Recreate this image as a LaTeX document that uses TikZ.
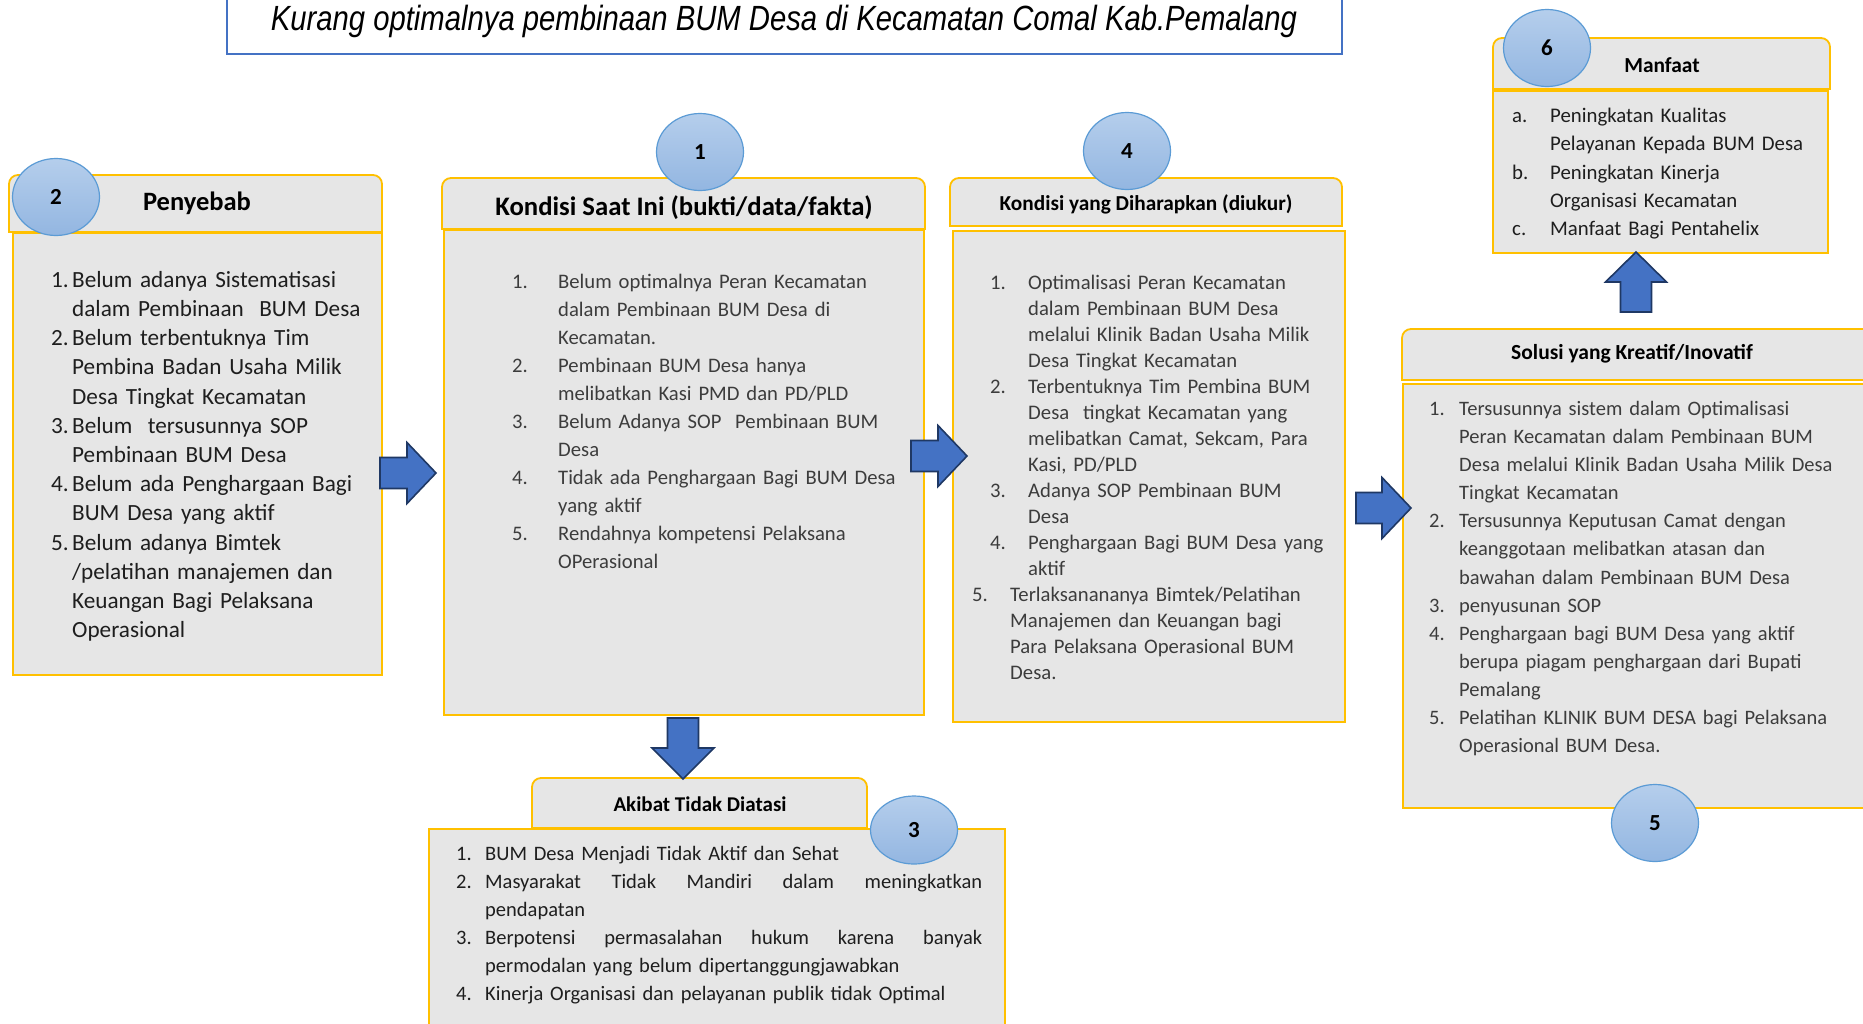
\documentclass[tikz,border=0pt]{standalone}
\usepackage{fontspec}
\setmainfont{Carlito}
\newfontfamily\headfont[FakeStretch=0.836]{Liberation Sans}
\usetikzlibrary{shapes.geometric,calc}

\definecolor{boxfill}{HTML}{E6E6E6}
\definecolor{gold}{HTML}{FFC000}
\definecolor{badgetop}{HTML}{B5CEEC}
\definecolor{badgebot}{HTML}{93B6E1}
\definecolor{badgeline}{HTML}{5B9BD5}
\definecolor{arrfill}{HTML}{4472C4}
\definecolor{arrline}{HTML}{1F3864}
\definecolor{titleline}{HTML}{4472C4}
\definecolor{ink}{HTML}{1E1E1E}
\definecolor{inkgray}{HTML}{3C3C3C}

% list helpers: numbered line and continuation line
\newlength\ind
\newcommand\li[2]{\makebox[\ind][l]{#1}#2}
\newcommand\lc[1]{\hspace*{\ind}#1}
% a fully justified line of the given width
\newcommand\jline[2]{\hbox to #1{#2}}

% header tab with rounded top corners
\newcommand\hdrtab[4]{%
  \filldraw[hdr] (#1,#4) -- (#1,#2+9) arc[start angle=180,end angle=270,radius=9]
    -- (#3-9,#2) arc[start angle=270,end angle=360,radius=9] -- (#3,#4) -- cycle;}

% block arrows between two named points
\newcommand\rarrow[2]{\draw[blockarr] let \p1=(#1), \p2=(#2) in
  (\x1,\y1+15.5pt) -- (\x2-29pt,\y1+15.5pt) -- (\x2-29pt,\y1+30.5pt) -- (\x2,\y2)
  -- (\x2-29pt,\y1-30.5pt) -- (\x2-29pt,\y1-15.5pt) -- (\x1,\y1-15.5pt) -- cycle;}
\newcommand\darrow[2]{\draw[blockarr] let \p1=(#1), \p2=(#2) in
  (\x1-15.5pt,\y1) -- (\x1-15.5pt,\y2+31pt) -- (\x1-31pt,\y2+31pt) -- (\x2,\y2)
  -- (\x1+31pt,\y2+31pt) -- (\x1+15.5pt,\y2+31pt) -- (\x1+15.5pt,\y1) -- cycle;}
\newcommand\uarrow[2]{\draw[blockarr] let \p1=(#1), \p2=(#2) in
  (\x1-15.5pt,\y1) -- (\x1-15.5pt,\y2-30pt) -- (\x1-30.5pt,\y2-30pt) -- (\x2,\y2)
  -- (\x1+30.5pt,\y2-30pt) -- (\x1+15.5pt,\y2-30pt) -- (\x1+15.5pt,\y1) -- cycle;}

\begin{document}
\begin{tikzpicture}[x=1pt,y=-1pt,
  hdr/.style={draw=gold,fill=boxfill,line width=1.8pt},
  bodybox/.style={draw=gold,fill=boxfill,line width=1.8pt,rectangle,inner sep=0pt,anchor=north west},
  badge/.style={ellipse,draw=badgeline,line width=1.2pt,top color=badgetop,bottom color=badgebot,
    minimum width=87pt,minimum height=77pt,inner sep=0pt,font=\bfseries\fontsize{23}{26}\selectfont},
  boxtitle/.style={inner sep=0pt,font=\bfseries\fontsize{#1}{#1}\selectfont},
  listtext/.style={inner sep=0pt,anchor=north west,text width=620pt,align=left},
  blockarr/.style={fill=arrfill,draw=arrline,line width=1.6pt,line join=miter}]

\useasboundingbox (0,0) rectangle (1863,1023);
\fill[white] (0,0) rectangle (1863,1023);

% ---------- heading ----------
\node[draw=titleline,line width=2.2pt,fill=white,minimum width=1115pt,minimum height=85pt,
  anchor=south west,inner sep=0pt] (titlebox) at (226,55) {};
\node[inner sep=0pt,anchor=base] (titletext) at (784,30)
  {\headfont\itshape\fontsize{35}{40}\selectfont Kurang optimalnya pembinaan BUM Desa di Kecamatan Comal Kab.Pemalang};

% ---------- 2: Penyebab ----------
\hdrtab{9}{175}{382}{232}
\node[bodybox,minimum width=369pt,minimum height=442pt] (penyebab) at (12,232) {};
\node[boxtitle=26.5] (t2) at (197,203) {Penyebab};
\node[listtext,text=ink,font=\fontsize{23.2}{29.2}\selectfont] (l2) at (51,271) {\setlength\ind{21pt}\noindent
\li{1.}{Belum adanya Sistematisasi}\\
\lc{dalam Pembinaan\ \ BUM Desa}\\
\li{2.}{Belum terbentuknya Tim}\\
\lc{Pembina Badan Usaha Milik}\\
\lc{Desa Tingkat Kecamatan}\\
\li{3.}{Belum\ \ tersusunnya SOP}\\
\lc{Pembinaan BUM Desa}\\
\li{4.}{Belum ada Penghargaan Bagi}\\
\lc{BUM Desa yang aktif}\\
\li{5.}{Belum adanya Bimtek}\\
\lc{/pelatihan manajemen dan}\\
\lc{Keuangan Bagi Pelaksana}\\
\lc{Operasional}};

% ---------- 1: Kondisi Saat Ini ----------
\hdrtab{442}{178}{925}{229}
\node[bodybox,minimum width=480pt,minimum height=485pt] (kondisi) at (443,229) {};
\node[boxtitle=26.7] (t1) at (684,208) {Kondisi Saat Ini (bukti/data/fakta)};
\node[listtext,text=inkgray,font=\fontsize{20.65}{28}\selectfont] (l1) at (512,274) {\setlength\ind{46pt}\noindent
\li{1.}{Belum optimalnya Peran Kecamatan}\\
\lc{dalam Pembinaan BUM Desa di}\\
\lc{Kecamatan.}\\
\li{2.}{Pembinaan BUM Desa hanya}\\
\lc{melibatkan Kasi PMD dan PD/PLD}\\
\li{3.}{Belum Adanya SOP\ \ Pembinaan BUM}\\
\lc{Desa}\\
\li{4.}{Tidak ada Penghargaan Bagi BUM Desa}\\
\lc{yang aktif}\\
\li{5.}{Rendahnya kompetensi Pelaksana}\\
\lc{OPerasional}};

% ---------- 4: Kondisi yang Diharapkan ----------
\hdrtab{950}{178}{1342}{226}
\node[bodybox,minimum width=392pt,minimum height=491pt] (harapan) at (952,230) {};
\node[boxtitle=21.3] (t4) at (1146,204) {Kondisi yang Diharapkan (diukur)};
\node[listtext,text=inkgray,font=\fontsize{20.7}{26}\selectfont] (l4) at (972,275) {\setlength\ind{38pt}\noindent
\hspace*{18pt}\li{1.}{Optimalisasi Peran Kecamatan}\\
\hspace*{18pt}\lc{dalam Pembinaan BUM Desa}\\
\hspace*{18pt}\lc{melalui Klinik Badan Usaha Milik}\\
\hspace*{18pt}\lc{Desa Tingkat Kecamatan}\\
\hspace*{18pt}\li{2.}{Terbentuknya Tim Pembina BUM}\\
\hspace*{18pt}\lc{Desa\ \ tingkat Kecamatan yang}\\
\hspace*{18pt}\lc{melibatkan Camat, Sekcam, Para}\\
\hspace*{18pt}\lc{Kasi, PD/PLD}\\
\hspace*{18pt}\li{3.}{Adanya SOP Pembinaan BUM}\\
\hspace*{18pt}\lc{Desa}\\
\hspace*{18pt}\li{4.}{Penghargaan Bagi BUM Desa yang}\\
\hspace*{18pt}\lc{aktif}\\
\li{5.}{Terlaksanananya Bimtek/Pelatihan}\\
\lc{Manajemen dan Keuangan bagi}\\
\lc{Para Pelaksana Operasional BUM}\\
\lc{Desa.}};

% ---------- 5: Solusi ----------
\hdrtab{1402}{329}{1875}{380}
\node[bodybox,minimum width=473pt,minimum height=424pt] (solusi) at (1402,383) {};
\node[boxtitle=21.5] (t5) at (1632,354) {Solusi yang Kreatif/Inovatif};
\node[listtext,text=inkgray,font=\fontsize{20.5}{28.1}\selectfont] (l5) at (1429,401) {\setlength\ind{30pt}\noindent
\li{1.}{Tersusunnya sistem dalam Optimalisasi}\\
\lc{Peran Kecamatan dalam Pembinaan BUM}\\
\lc{Desa melalui Klinik Badan Usaha Milik Desa}\\
\lc{Tingkat Kecamatan}\\
\li{2.}{Tersusunnya Keputusan Camat dengan}\\
\lc{keanggotaan melibatkan atasan dan}\\
\lc{bawahan dalam Pembinaan BUM Desa}\\
\li{3.}{penyusunan SOP}\\
\li{4.}{Penghargaan bagi BUM Desa yang aktif}\\
\lc{berupa piagam penghargaan dari Bupati}\\
\lc{Pemalang}\\
\li{5.}{Pelatihan KLINIK BUM DESA bagi Pelaksana}\\
\lc{Operasional BUM Desa.}};

% ---------- 6: Manfaat ----------
\hdrtab{1493}{38}{1830}{89}
\node[bodybox,minimum width=335pt,minimum height=162pt] (manfaat) at (1492,90) {};
\node[boxtitle=21.4] (t6) at (1662,65) {Manfaat};
\node[listtext,text=ink,font=\fontsize{20.8}{28.2}\selectfont] (l6) at (1512,108) {\setlength\ind{38pt}\noindent
\li{a.}{Peningkatan Kualitas}\\
\lc{Pelayanan Kepada BUM Desa}\\
\li{b.}{Peningkatan Kinerja}\\
\lc{Organisasi Kecamatan}\\
\li{c.}{Manfaat Bagi Pentahelix}};

% ---------- 3: Akibat Tidak Diatasi ----------
\hdrtab{532}{778}{867}{828}
\node[bodybox,minimum width=576pt,minimum height=220pt] (akibat) at (428,828) {};
\node[boxtitle=21] (t3) at (700,804) {Akibat Tidak Diatasi};
\node[listtext,text=ink,font=\fontsize{20.5}{28}\selectfont] (l3) at (456,846) {\setlength\ind{29pt}\noindent
\li{1.}{BUM Desa Menjadi Tidak Aktif dan Sehat}\\
\li{2.}{\jline{497pt}{Masyarakat\hfill Tidak\hfill Mandiri\hfill dalam\hfill meningkatkan}}\\
\lc{pendapatan}\\
\li{3.}{\jline{497pt}{Berpotensi\hfill permasalahan\hfill hukum\hfill karena\hfill banyak}}\\
\lc{permodalan yang belum dipertanggungjawabkan}\\
\li{4.}{Kinerja Organisasi dan pelayanan publik tidak Optimal}};

% ---------- numbered badges ----------
\node[badge] (b2) at (56,197) {2};
\node[badge] (b1) at (700,152) {1};
\node[badge] (b4) at (1127,151) {4};
\node[badge] (b6) at (1547,48) {6};
\node[badge,minimum height=68pt] (b3) at (914,830) {3};
\node[badge] (b5) at (1655,823) {5};

% ---------- flow arrows ----------
\coordinate (a1s) at (380,473);  \coordinate (a1t) at (436,473);
\coordinate (a2s) at (911,456);  \coordinate (a2t) at (967,456);
\coordinate (a3s) at (1356,508); \coordinate (a3t) at (1411,508);
\coordinate (a4s) at (683,718);  \coordinate (a4t) at (683,779);
\coordinate (a5s) at (1636,312); \coordinate (a5t) at (1636,252);
\rarrow{a1s}{a1t}
\rarrow{a2s}{a2t}
\rarrow{a3s}{a3t}
\darrow{a4s}{a4t}
\uarrow{a5s}{a5t}
\end{tikzpicture}
\end{document}
